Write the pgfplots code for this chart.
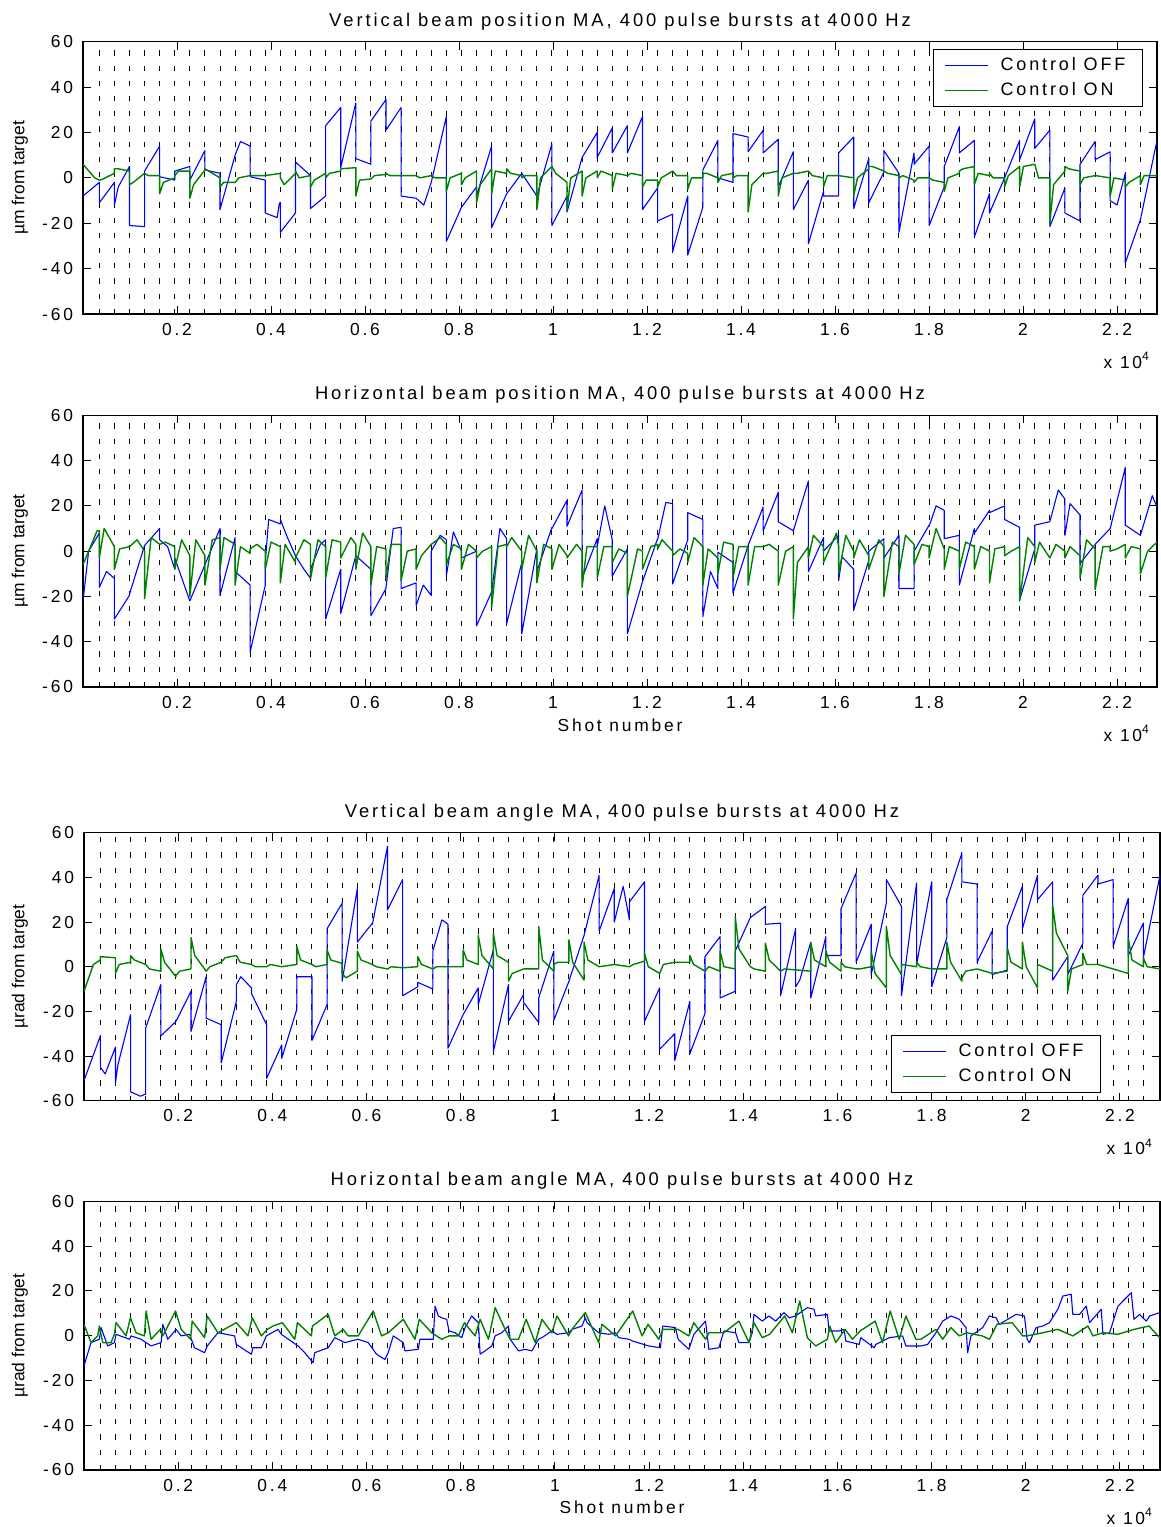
\documentclass[border=0pt]{standalone}
\usepackage{fontspec}
\setmainfont{Liberation Sans}
\newfontfamily\spaced[LetterSpace=16]{Liberation Sans}
\usepackage{pgfplots}
\pgfplotsset{compat=1.18}
\definecolor{offblue}{RGB}{0,0,255}
\definecolor{ongreen}{RGB}{0,128,0}
\newcommand{\lbl}{\fontsize{8.7}{10}\selectfont\spaced}
\newcommand{\ttl}{\fontsize{9.2}{10}\selectfont\spaced}
\newcommand{\lgd}{\fontsize{9}{10}\selectfont\spaced}
\pgfplotsset{
  beampanel/.style={
    scale only axis,
    xmin=0, xmax=22850, ymin=-60, ymax=60,
    xtick={2000,4000,6000,8000,10000,12000,14000,16000,18000,20000,22000},
    xticklabels={0.2,0.4,0.6,0.8,1,1.2,1.4,1.6,1.8,2,2.2},
    ytick={-60,-40,-20,0,20,40,60},
    yticklabels={-60,-40,-20,0,20,40,60},
    scaled x ticks=false,
    tick align=inside, major tick length=4pt,
    tick style={black, line width=0.5pt},
    axis line style={black, line width=0.75pt},
    tick label style={font=\lbl},
    xticklabel style={anchor=base, yshift=-10.5pt},
    yticklabel style={anchor=east, xshift=-1.5pt},
    every axis title/.style={at={(0.5,1)}, anchor=base, yshift=7.8pt, font=\ttl},
    every axis x label/.style={at={(0.5,0)}, anchor=base, yshift=-22pt, font=\lbl},
    every axis y label/.style={at={(axis description cs:-0.0587,0.5)}, anchor=center, rotate=90, font=\fontsize{8.7}{10}\selectfont},
    extra x ticks={347,668,...,22496},
    extra x tick labels={},
    extra x tick style={grid=major, major tick length=0pt,
      major grid style={black, line width=0.5pt, dash pattern=on 2.6pt off 5pt}},
    every axis plot/.append style={line width=0.55pt, line join=round},
    legend cell align=left,
    legend image code/.code={\draw[##1, line width=0.5pt] (0pt,0pt) -- (21.5pt,0pt);},
    after end axis/.code={
      \node[anchor=base east, font=\lbl] at (rel axis cs:1,0) [yshift=-27pt] {x 10\textsuperscript{4}};
    },
  },
  beamlegend/.style={
    legend style={draw=black, line width=0.5pt, fill=white, font=\lgd,
      inner xsep=5.5pt, inner ysep=1.4pt, row sep=0pt,
      nodes={inner ysep=2.4pt, inner xsep=3pt},
      /tikz/every odd column/.append style={column sep=3pt}},
  },
}
\begin{document}
\begin{tikzpicture}
\useasboundingbox (0,0) rectangle (580.5pt,-763.5pt);

% ---- vertical position
\begin{axis}[beampanel, beamlegend, at={(41.5pt,-20.85pt)}, anchor=north west,
  width=537pt, height=136.15pt,
  title={Vertical beam position MA, 400 pulse bursts at 4000 Hz},
  ylabel={µm from target},
  legend style={at={(rel axis cs:1,1)}, anchor=north east, xshift=-7pt, yshift=-3.65pt}]
\addplot[offblue] coordinates {
(0,-8)(347,-2)(347,-11)(668,-2)(668,-12)(750,-4)(989,5)(989,-21)(1310,-21.5)(1310,3)(1631,14)(1631,0.5)(1952,-1)(1952,3)(2273,5)(2273,-1)(2594,12)(2594,3.5)(2915,2)(2915,-14)(3236,10)(3350,16)(3557,14)(3557,0.5)(3878,-1)(3878,-15.5)(4130,-17.5)(4180,-11)(4199,-11)(4199,-24)(4520,-15.5)(4520,7)(4841,1)(4841,-13.5)(5162,-8)(5162,23)(5483,31)(5483,4.5)(5804,33)(5804,8.5)(6125,6)(6125,25)(6446,34.5)(6446,21)(6767,31)(6767,-8)(7088,-9)(7250,-12)(7409,-2)(7730,27)(7730,-28)(8051,-13)(8372,-4)(8372,-8)(8693,14)(8693,-22)(9014,-7)(9335,2)(9656,-8)(9977,15)(9977,-21)(10298,-8)(10298,-15)(10619,9)(10940,20)(10940,9)(11261,22)(11261,11)(11582,23)(11582,11)(11903,27)(11903,-14)(12224,-4.5)(12224,-19)(12545,-16)(12545,-32.5)(12866,-8)(12866,-34)(13187,-13)(13187,3.5)(13508,16.5)(13508,0)(13829,-2)(13829,19.5)(14150,18)(14150,11.5)(14471,21)(14471,11)(14792,17)(14792,-4)(15113,11.5)(15113,-14)(15434,-1)(15434,-29)(15755,-6)(15755,-8)(16076,-8)(16076,11)(16397,18)(16397,-13.5)(16718,8.5)(16718,-11)(17039,2.5)(17039,12)(17360,2)(17360,-24)(17681,11)(17681,6)(18002,14)(18002,-21)(18323,-4)(18323,5)(18644,22.5)(18644,11)(18965,16.5)(18965,-26)(19286,-7)(19286,-15.5)(19607,0)(19928,16.5)(19928,8)(20249,26)(20249,13)(20570,21)(20570,-21.5)(20891,-4.5)(20891,-15.5)(21212,-19)(21212,6)(21533,16)(21533,8)(21854,11.5)(21854,-10)(22000,-12)(22175,2)(22175,-37.5)(22496,-18.5)(22850,16.5)
};
\addplot[ongreen, line width=0.7pt] coordinates {
(0,6)(250,0)(347,-1)(427,-0.5)(668,2)(668,4)(748,4)(989,3)(989,-3)(1069,-2)(1310,2)(1390,1)(1631,1)(1631,-7)(1711,-2)(1952,0)(1952,1)(2032,3)(2273,3)(2273,-9)(2353,-3)(2594,3.5)(2594,4)(2674,3)(2915,0)(2915,-4)(2995,-2)(3236,-2)(3316,0)(3557,1)(3878,1)(4199,2)(4199,0)(4279,-3)(4520,2)(4520,3)(4600,0)(4841,1)(4841,-4)(4921,-1)(5162,2)(5162,0)(5242,2)(5483,3)(5483,4)(5804,4.5)(5804,-8)(5884,-1)(6125,-0.5)(6205,1)(6446,1.5)(6446,2)(6526,1)(7088,1)(7168,0)(7409,1)(7489,0)(7730,0)(7730,-6)(7810,0)(8051,2)(8051,-3)(8131,0)(8372,3)(8372,-11)(8452,-3)(8693,4)(8693,-7)(8773,3)(9014,2)(9014,4)(9094,2)(9335,1)(9335,0)(9415,1)(9656,1)(9656,-14)(9736,0)(9977,5)(10057,2)(10298,-2)(10298,-14)(10378,0)(10619,3)(10619,-8)(10699,0)(10940,3)(10940,0)(11020,3)(11261,1)(11261,-5)(11341,2)(11582,1)(11662,2)(11903,1)(11903,-4)(11983,-1)(12224,-1)(12224,-4)(12304,0)(12545,3)(12625,1)(12866,1)(12866,-5)(12946,0)(13187,0)(13187,2)(13267,2)(13508,0)(13508,-2)(13588,1)(13829,2)(13829,0)(13909,1)(14150,1)(14150,-15)(14230,-3)(14471,2)(14551,2)(14792,3)(14792,-8)(14872,0)(15113,2)(15193,2)(15434,3)(15514,1)(15755,0)(15755,-4)(15835,1)(16076,1)(16397,0)(16397,-8)(16477,0)(16718,4)(16718,5)(16798,5)(17039,3)(17119,2)(17360,1)(17360,0)(17440,1)(17681,-1)(17681,-2)(17761,0)(18002,0)(18082,-1)(18323,-2)(18323,-6)(18403,0)(18644,2)(18644,3)(18724,4)(18965,5)(18965,-3)(19045,2)(19286,1)(19286,2)(19366,0)(19607,0)(19607,-4)(19687,1)(19928,5)(19928,-4)(20008,5)(20249,6)(20329,0)(20570,0)(20570,-20)(20650,-3)(20891,3)(20891,5)(20971,4)(21212,3)(21212,-3)(21292,0)(21533,1)(21854,0)(21854,-8)(21934,0)(22175,-1)(22175,-4)(22255,-2)(22496,1)(22496,-3)(22576,1)(22850,1)
};
\legend{Control OFF, Control ON}
\end{axis}

% ---- horizontal position
\begin{axis}[beampanel, at={(41.5pt,-207.65pt)}, anchor=north west,
  width=537pt, height=135.85pt,
  title={Horizontal beam position MA, 400 pulse bursts at 4000 Hz},
  ylabel={µm from target}, xlabel={Shot number}]
\addplot[offblue] coordinates {
(0,-22)(120,0)(347,8)(347,-16)(500,-9)(668,-12)(668,-30)(989,-19.5)(989,-19)(1310,2.5)(1631,10)(1631,5)(1800,2)(1952,-8)(1952,-3)(2273,-22)(2594,-6)(2915,10)(2915,-19.5)(3236,6)(3236,-9)(3557,-15)(3557,-44.5)(3878,-15)(3878,-5)(3950,14)(4199,12)(4199,14)(4350,6)(4520,-2)(4700,-8)(4841,-12)(4841,-8)(5050,3)(5162,5)(5162,-30)(5483,-8)(5483,-27.5)(5804,-2)(6125,-8)(6125,-28.5)(6446,-16.5)(6446,-16)(6600,10)(6767,10.5)(6767,-16.5)(7088,-14)(7088,-24)(7240,-15)(7409,-19.5)(7409,0)(7600,7)(7730,5)(7730,-11)(7880,8.5)(8051,0)(8051,-3)(8372,0)(8372,-33)(8693,-18)(8870,10)(9014,5.5)(9014,-32)(9335,-5)(9335,-36.5)(9656,1)(9656,-9)(9977,10.5)(9977,10)(10298,22.5)(10298,11)(10619,27)(10619,-12)(10940,5.5)(10940,2)(11100,20)(11261,5)(11261,-11)(11582,1)(11582,-36.5)(11903,-13.5)(12224,5.5)(12224,5)(12400,21.5)(12545,21)(12545,-14.5)(12866,5)(12866,17)(13187,14)(13187,-29)(13350,-9)(13508,-16.5)(13508,-0.5)(13829,-5)(13829,-18.5)(14150,2.5)(14471,19.5)(14471,9)(14792,26)(14792,13)(15113,9)(15434,31)(15434,-9)(15755,6)(15755,0)(16076,7)(16076,-13)(16150,-2.5)(16397,-8)(16397,-26)(16718,-4)(16718,0)(17039,5.5)(17039,-3)(17360,7)(17360,-16.5)(17681,-16.5)(17681,0)(18002,11.5)(18002,11)(18150,20)(18323,18)(18323,5.5)(18644,7)(18644,-15)(18965,10)(18965,8)(19286,18)(19286,17)(19607,20)(19607,14)(19928,10.5)(19928,-21.5)(20249,1)(20249,11.5)(20570,13)(20750,27)(20891,23)(20891,7)(21000,21)(21212,16)(21212,-5.5)(21533,3)(21854,10)(22175,37)(22175,11.5)(22496,7)(22750,24.5)(22850,19.5)
};
\addplot[ongreen, line width=0.7pt] coordinates {
(0,-6)(300,9)(347,9)(347,-3)(450,10)(668,2)(668,-8)(780,1)(989,2)(1150,5)(1310,0)(1310,-21)(1450,6)(1631,3)(1750,4)(1952,2)(1952,-8)(2100,5)(2273,-2)(2273,-20)(2400,5)(2594,-2)(2594,-15)(2750,5)(2915,6)(2915,-8)(3000,6)(3236,3)(3236,-15)(3350,2)(3557,-1)(3557,1)(3700,3)(3878,0)(3878,-8)(4000,4)(4199,2)(4199,-14)(4300,3)(4520,-5)(4520,-3)(4700,5)(4841,3)(4841,-12)(5000,5)(5162,2)(5162,-12)(5300,5)(5483,4)(5483,-3)(5700,6)(5804,3)(5804,-8)(5950,8)(6125,2)(6125,-15)(6250,2)(6446,1)(6446,-12)(6550,3)(6767,3)(6767,-13)(6900,0)(7088,1)(7088,-8)(7200,-2)(7409,3)(7600,6)(7730,3)(7730,-6)(7880,3)(8051,1)(8051,-8)(8200,3)(8372,0)(8372,-3)(8500,0)(8693,2)(8693,-25)(8830,2)(9014,3)(9014,2)(9120,6)(9335,0)(9335,-8)(9480,7)(9656,0)(9656,-14)(9800,3)(9977,1)(9977,-8)(10130,3)(10298,-2)(10298,-3)(10500,3)(10619,0)(10619,-16)(10720,2)(10940,2)(10940,-12)(11080,2)(11261,2)(11261,-5)(11400,1)(11582,-1)(11582,-20)(11800,1)(11903,0)(11903,-8)(12080,2)(12224,3)(12224,1)(12320,5)(12545,0)(12545,-2)(12700,1)(12866,-1)(12866,-5)(13000,6)(13187,2)(13187,-15)(13300,1)(13508,-3)(13508,-10)(13630,4)(13829,3)(13829,-12)(13950,2)(14150,2)(14150,-15)(14290,2)(14471,2)(14600,3)(14792,0)(14792,-15)(14950,0)(15113,2)(15113,-30)(15200,-5)(15434,2)(15434,-3)(15540,7)(15755,2)(15755,-5)(16030,8)(16076,2)(16076,-10)(16230,7)(16397,0)(16397,-3)(16520,5)(16718,-2)(16718,-8)(16930,5)(17039,2)(17039,-20)(17220,4)(17360,2)(17360,-10)(17500,7)(17681,3)(17681,-6)(17850,3)(18002,2)(18002,-3)(18150,10)(18323,1)(18323,-8)(18430,2)(18644,0)(18644,-8)(18780,4)(18965,2)(18965,-8)(19100,2)(19286,0)(19286,-14)(19400,1)(19607,2)(19607,-2)(19750,0)(19928,2)(19928,-22)(20100,6)(20249,2)(20249,-5)(20350,4)(20570,-3)(20700,3)(20891,0)(20891,-3)(21000,2)(21212,-2)(21212,-12)(21350,5)(21533,1)(21533,-17)(21700,2)(21854,2)(21854,0)(22000,1)(22175,3)(22175,-3)(22300,2)(22496,1)(22496,-10)(22650,0)(22850,4)
};
\end{axis}

% ---- vertical angle
\begin{axis}[beampanel, beamlegend, at={(42pt,-416.35pt)}, anchor=north west,
  width=538pt, height=134pt,
  title={Vertical beam angle MA, 400 pulse bursts at 4000 Hz},
  ylabel={µrad from target},
  every axis y label/.append style={at={(axis description cs:-0.0595,0.5)}},
  legend style={at={(rel axis cs:1,0)}, anchor=south east, xshift=-29.5pt, yshift=3.85pt}]
\addplot[offblue] coordinates {
(0,-51)(347,-31)(347,-45)(450,-48)(668,-36)(668,-52)(720,-44)(989,-21.5)(989,-56)(1200,-58)(1310,-57)(1310,-27.5)(1631,-8)(1631,-31)(1952,-24.5)(2273,-11)(2273,-29)(2594,-4.5)(2594,-23)(2915,-26)(2915,-43)(3236,-15.5)(3236,-8)(3330,-4.5)(3557,-9.5)(3557,-12)(3878,-26)(3878,-50)(4199,-35)(4199,-41)(4520,-19)(4520,-4.5)(4841,-4.5)(4841,-33)(5162,-17)(5162,17)(5483,28.5)(5483,-6.5)(5804,35)(5804,11)(6125,19.5)(6125,19)(6446,54)(6446,25.5)(6767,39)(6767,-13)(7088,-9)(7088,-7)(7409,-10)(7409,7)(7600,21)(7730,19)(7730,-36.5)(8051,-21.5)(8372,-9.5)(8372,-17)(8693,7.5)(8693,-38)(9014,-8)(9014,-24.5)(9335,-12.5)(9335,-16)(9656,-25)(9656,-14)(9977,7)(9977,-24)(10298,-6.5)(10619,14)(10940,41)(10940,16)(11261,35)(11261,20)(11450,36)(11582,21)(11582,29)(11903,38)(11903,-24.5)(12224,-9.5)(12224,-37)(12545,-30)(12545,-42)(12866,-15.5)(12866,-39)(13187,-21)(13187,4.5)(13508,13.5)(13508,-14)(13829,-11)(13829,7)(14150,22)(14471,27)(14471,19)(14792,19.5)(14792,-13)(15113,17)(15113,-9)(15200,-6)(15434,11)(15434,-14)(15755,13.5)(15755,5)(16076,5)(16076,26)(16397,42)(16397,2)(16718,19)(16718,-3.5)(17039,28.5)(17039,39)(17360,27)(17360,-13)(17681,37.5)(17681,1)(18002,38)(18002,-9)(18323,13)(18323,30)(18644,51)(18644,38)(18965,37)(18965,2)(19286,16)(19286,-3.5)(19607,-1.5)(19607,18)(19928,36)(19928,17)(20249,41)(20249,30)(20570,38)(20570,-6)(20891,4.5)(20891,-3.5)(21212,10.5)(21212,32)(21533,41)(21533,37)(21854,39)(21854,9)(22175,30.5)(22175,5)(22496,19.5)(22496,4)(22850,41)
};
\addplot[ongreen, line width=0.7pt] coordinates {
(0,-11)(200,1)(347,3)(347,4.5)(668,4)(668,-3)(748,1)(989,2)(989,5)(1069,3)(1310,1)(1390,-1)(1631,-2)(1631,8)(1711,2)(1952,-4.5)(1952,-4)(2032,-2)(2273,-1)(2273,13)(2353,5)(2594,-2)(2674,0)(2915,2)(2995,4)(3236,5)(3316,2)(3557,1)(3637,0)(3878,0)(3958,1)(4199,0)(4520,1)(4520,9)(4600,3)(4841,1)(4921,0)(5162,1)(5162,7.5)(5242,3)(5483,1.5)(5483,-3)(5563,-5)(5804,-2)(5804,7)(5884,3)(6125,1)(6205,0)(6446,-1)(6526,0)(6767,-0.5)(7088,0)(7088,4.5)(7168,1)(7409,-1)(7489,0)(8051,0)(8051,7.5)(8131,3)(8372,1)(8372,14)(8452,5)(8693,-1)(8693,15)(8773,5)(9014,2)(9014,-6.5)(9094,-3)(9335,-1)(9656,-1)(9656,18)(9736,3)(9977,-2)(9977,1)(10057,2)(10298,2)(10298,12)(10378,2)(10619,-6)(10619,11)(10699,3)(10940,0)(11261,1)(11582,0)(11662,1)(11903,2.5)(11903,6)(11983,0)(12224,-3)(12304,1)(12545,2)(12866,2)(12866,5)(12946,1)(13187,-2)(13267,0)(13508,-2)(13508,7)(13588,0)(13829,-1)(13829,22.5)(13909,8)(14150,0)(14230,-1)(14471,-2)(14471,10.5)(14551,3)(14792,-2)(14872,-1)(15434,-2)(15434,10.5)(15514,3)(15755,0)(15755,7)(15835,2)(16076,-2)(16076,2)(16156,0)(16397,-1)(16477,-1)(16718,0)(16718,7)(16798,-3)(17039,-9.5)(17039,18)(17119,5)(17360,-3.5)(17360,1)(17681,0)(17681,2)(17761,0)(18002,-1)(18323,-1)(18323,11)(18403,2)(18644,-6.5)(18644,-5)(18724,-2)(18965,-1)(19286,-3)(19607,-2)(19607,8.5)(19687,2)(19928,-1)(19928,11)(20008,0)(20249,-9.5)(20249,1)(20570,-2)(20570,27.5)(20650,15)(20891,5)(20891,-11)(20971,-1)(21212,1)(21212,6)(21292,1)(21533,1)(21854,-1)(22175,-3)(22175,13)(22255,3)(22496,0)(22496,4)(22576,0)(22850,-1)
};
\legend{Control OFF, Control ON}
\end{axis}

% ---- horizontal angle
\begin{axis}[beampanel, at={(42pt,-600.65pt)}, anchor=north west,
  width=538pt, height=134.35pt,
  title={Horizontal beam angle MA, 400 pulse bursts at 4000 Hz},
  ylabel={µrad from target}, xlabel={Shot number},
  every axis y label/.append style={at={(axis description cs:-0.0595,0.5)}},
  every axis x label/.append style={yshift=0.5pt}]
\addplot[offblue] coordinates {
(0,-13.5)(149,-3.1)(326,-1.6)(362,3.6)(503,-4.6)(645,-3.1)(681,0.6)(964,-1.6)(1000,-0.1)(1213,-1.6)(1425,-4.6)(1638,-3.1)(1674,5.1)(1780,-1.6)(1957,2.8)(2064,-0.1)(2241,0.6)(2347,-5.4)(2560,-7.6)(2617,-4.6)(2844,1.3)(3198,-0.1)(3234,-3.9)(3553,-8.3)(3588,-5.4)(3766,-5.4)(3872,-0.1)(4120,2.8)(4191,0.6)(4546,-4.6)(4688,-7.6)(4865,-12.1)(4900,-7.6)(5184,-5.4)(5326,-0.9)(5539,-3.1)(5822,-1.6)(6035,-3.1)(6212,-8.3)(6390,-10.6)(6461,-7.6)(6567,-0.1)(6780,-3.1)(6815,-6.8)(7099,-6.1)(7134,-1.6)(7418,-1.6)(7454,13.2)(7525,8.8)(7596,8)(7702,7.3)(7752,2.1)(7880,1.3)(8022,-0.9)(8092,3.6)(8234,8.8)(8376,5.8)(8412,-8.3)(8518,-6.8)(8660,-4.6)(8731,-0.1)(8873,1.3)(9014,4.3)(9050,-1.6)(9227,-6.8)(9369,-6.1)(9511,-6.8)(9653,-1.6)(9724,-0.9)(9936,2.1)(10043,0.6)(10291,1.3)(10362,2.8)(10575,4.3)(10646,8)(10681,5.8)(10929,1.3)(11142,0.6)(11284,1.3)(11355,-0.9)(11568,-1.6)(11653,-2.4)(11993,-4.6)(12241,-5.4)(12291,4.3)(12560,3.6)(12617,-1.6)(12844,-6.1)(12950,0.6)(13199,6.5)(13270,-6.1)(13482,-5.4)(13589,2.1)(13837,1.3)(13908,-3.1)(14121,-3.1)(14192,1.3)(14227,9.5)(14404,6.5)(14546,8.8)(14688,6.5)(14865,10.3)(14972,8)(15114,8.8)(15255,11)(15361,12.5)(15503,11.8)(15539,8.8)(15787,9.5)(15822,2.1)(16035,2.1)(16142,2.8)(16177,-2.4)(16461,-3.9)(16496,-0.9)(16780,-5.4)(16815,-3.9)(17099,-0.9)(17383,-0.1)(17454,-4.6)(17773,-4.6)(17915,-3.9)(18092,1.3)(18234,6.5)(18411,8.8)(18588,7.3)(18730,3.6)(18766,-7.6)(18836,-0.1)(19085,3.6)(19227,8.8)(19368,8)(19439,5.1)(19617,7.3)(19794,9.5)(19971,8.8)(20028,-1.6)(20078,-3.1)(20219,3.6)(20361,4.3)(20503,5.8)(20680,11.8)(20787,17.7)(20964,18.5)(20999,9.5)(21141,9.5)(21283,13.2)(21354,5.8)(21602,11.8)(21638,0.6)(21780,1.3)(21957,13.2)(22240,19.2)(22297,7.3)(22417,9.5)(22559,6.5)(22631,8.8)(22843,10.3)
};
\addplot[ongreen, line width=0.7pt] coordinates {
(0,5)(149,-3.1)(291,-0.1)(326,4.3)(397,-3.1)(574,-3.1)(645,0.6)(681,5.8)(893,-0.1)(986,8)(1106,1.3)(1283,-0.1)(1319,11)(1425,-1.6)(1624,2.8)(1674,-0.1)(1943,11)(2064,2.8)(2262,-1.6)(2298,6.5)(2560,-0.9)(2617,8.8)(2844,1.3)(2915,2.1)(3234,5.8)(3482,-0.1)(3574,8)(3766,-0.1)(3893,2.8)(4014,4.3)(4212,5.8)(4475,-1.6)(4532,5.8)(4829,-0.1)(4851,4.3)(5184,9.5)(5326,-0.1)(5503,2.8)(5610,-0.1)(5822,-0.1)(6142,11)(6319,-0.1)(6461,1.3)(6780,7.3)(7028,-1.6)(7120,7.3)(7383,1.3)(7596,-1.6)(7752,-0.1)(7951,-0.1)(8078,5.8)(8305,-0.1)(8412,7.3)(8589,-1.6)(8731,12.5)(8943,2.8)(9050,-1.6)(9227,-1.6)(9390,7.3)(9582,-3.1)(9724,7.3)(9936,1.3)(10043,8.8)(10291,-0.1)(10362,2.8)(10646,10.3)(10929,-3.1)(11000,5.1)(11284,-0.1)(11334,1.3)(11653,11)(11851,-0.1)(11979,5.1)(12206,-1.6)(12291,2.8)(12617,2.8)(12844,-0.1)(12950,5.8)(13199,-1.6)(13270,1.3)(13589,1.3)(13908,6.5)(14121,-3.1)(14227,5.8)(14404,-0.9)(14560,0.6)(14879,8.8)(15043,1.3)(15199,15.5)(15361,-0.9)(15539,-4.6)(15787,-1.6)(15837,4.3)(15964,-3.1)(16163,2.8)(16319,-1.6)(16482,2.1)(16801,6.5)(16957,-3.1)(17120,11)(17312,-1.6)(17454,8.8)(17666,-1.6)(17773,-1.6)(18092,2.8)(18234,-1.6)(18411,3.6)(18588,-0.1)(18744,1.3)(19071,-0.1)(19227,-1.6)(19390,5.1)(19709,5.8)(19936,-0.1)(20028,-0.1)(20361,1.3)(20680,2.8)(20999,-0.1)(21319,4.3)(21425,-0.1)(21638,1.3)(21957,0.6)(22297,2.8)(22617,4.3)(22843,-0.9)
};
\end{axis}
\end{tikzpicture}
\end{document}
